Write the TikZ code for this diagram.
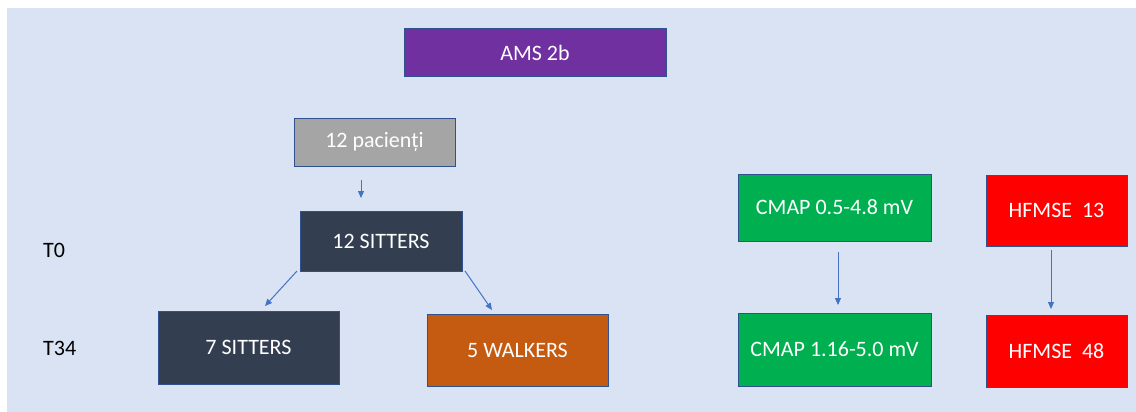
\documentclass[tikz,border=0pt]{standalone}
\usepackage{fontspec}
\setmainfont{Carlito}
\usetikzlibrary{arrows.meta}
\definecolor{bgblue}{HTML}{DAE3F3}
\definecolor{purplebox}{HTML}{7030A0}
\definecolor{graybox}{HTML}{A5A5A5}
\definecolor{navybox}{HTML}{333F50}
\definecolor{orangebox}{HTML}{C55A11}
\definecolor{greenbox}{HTML}{00B050}
\definecolor{redbox}{HTML}{FF0000}
\definecolor{edgeblue}{HTML}{2F528F}
\definecolor{arrowblue}{HTML}{4472C4}
\tikzset{
  box/.style={draw=edgeblue, line width=1pt, rectangle, inner sep=0pt, anchor=center,
    text=white, font=\fontsize{22}{26}\selectfont},
  lbl/.style={inner sep=0pt, anchor=west, text=black, font=\fontsize{22}{26}\selectfont},
  conn/.style={draw=arrowblue, line width=1pt, -{Triangle[length=7pt,width=6pt]}}
}
\begin{document}
\begin{tikzpicture}[x=1pt,y=-1pt]
\useasboundingbox (0,0) rectangle (1136,412);
\fill[bgblue] (7,8) rectangle (1136,412);

\node[box, fill=purplebox, minimum width=262pt, minimum height=48pt] (ams) at (535,53) {AMS 2b};
\node[box, fill=graybox, minimum width=161pt, minimum height=48pt] (pac) at (374.5,142) {12 pacienți};
\node[box, fill=navybox, minimum width=162pt, minimum height=60pt] (s12) at (381,241) {12 SITTERS};
\node[box, fill=navybox, minimum width=181pt, minimum height=73pt] (s7) at (248.5,347.5) {7 SITTERS};
\node[box, fill=orangebox, minimum width=181pt, minimum height=72pt] (w5) at (517.5,350) {5 WALKERS};
\node[box, fill=greenbox, minimum width=193pt, minimum height=67pt] (c1) at (834.5,207.5) {CMAP 0.5-4.8 mV};
\node[box, fill=greenbox, minimum width=193pt, minimum height=73pt] (c2) at (834.5,349.5) {CMAP 1.16-5.0 mV};
\node[box, fill=redbox, minimum width=141pt, minimum height=71pt] (h1) at (1056.5,210.5) {HFMSE~~13};
\node[box, fill=redbox, minimum width=141pt, minimum height=72pt] (h2) at (1056.5,351) {HFMSE~~48};

\node[lbl] (t0) at (43,250) {T0};
\node[lbl] (t34) at (43,348) {T34};

\coordinate (a1s) at (361,180);
\coordinate (a1e) at (361,198);
\coordinate (a2s) at (297,271);
\coordinate (a2e) at (265,306);
\coordinate (a3s) at (465,271);
\coordinate (a3e) at (492,310);
\coordinate (a4s) at (838,252);
\coordinate (a4e) at (838,305);
\coordinate (a5s) at (1051,250);
\coordinate (a5e) at (1051,309);

\draw[conn] (a1s) -- (a1e);
\draw[conn] (a2s) -- (a2e);
\draw[conn] (a3s) -- (a3e);
\draw[conn] (a4s) -- (a4e);
\draw[conn] (a5s) -- (a5e);
\end{tikzpicture}
\end{document}
